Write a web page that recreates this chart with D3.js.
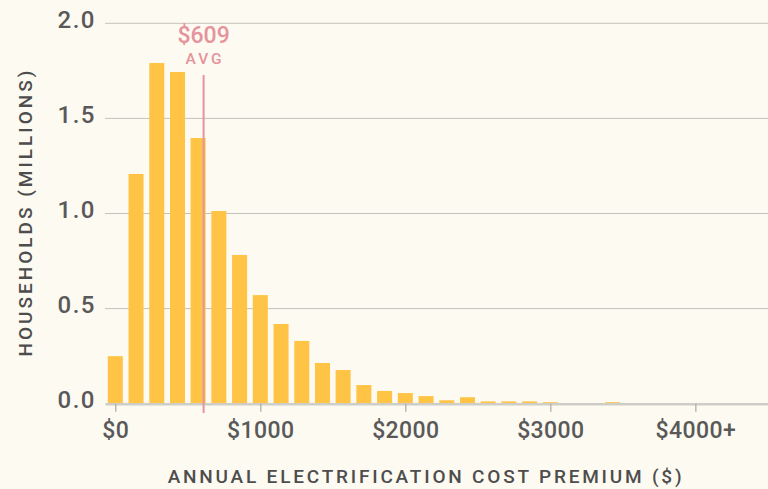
<!DOCTYPE html>
<html>
<head>
<meta charset="utf-8">
<script src="https://cdn.jsdelivr.net/npm/d3@7"></script>
<style>
  html, body { margin: 0; padding: 0; background: #fdfaf1; }
  svg { display: block; }
  svg text { font-family: Roboto, "Noto Sans", sans-serif; font-weight: 500; }
  .grid line { stroke: #c4c2bc; stroke-width: 1; }
  .tick text { fill: #595959; }
</style>
</head>
<body>
<script>
// bin centres in dollars (bins are $1000/7 wide)
var binCenters = [0, 143, 286, 429, 571, 714, 857, 1000, 1143, 1286,
                  1429, 1571, 1714, 1857, 2000, 2143, 2286, 2429, 2571, 2714,
                  2857, 3000, 3143, 3286, 3429, 3571, 3714, 3857, 4000, 4143];
// households, millions
var households = [0.25, 1.208, 1.791, 1.744, 1.397, 1.013, 0.782, 0.571, 0.419, 0.33,
                  0.214, 0.177, 0.098, 0.067, 0.056, 0.040, 0.018, 0.034, 0.012, 0.012,
                  0.012, 0.008, 0.002, 0.002, 0.008, 0.002, 0.002, 0.002, 0.002, 0.002];
var xTickValues = [0, 1000, 2000, 3000, 4000];
var xTickLabels = ["$0", "$1000", "$2000", "$3000", "$4000+"];
var yTickValues = [0, 0.5, 1.0, 1.5, 2.0];
var avgCost = 609;

function plot_it() {
  var width = 768, height = 489;
  var margin = {top: 23.3, right: 0, bottom: 85.3, left: 105};

  var svg = d3.select("body").append("svg")
    .attr("width", width)
    .attr("height", height);

  var data = binCenters.map(function(c, i) { return {x: c, v: households[i]}; });

  var x = d3.scaleLinear()
    .domain([-71, 4501])
    .range([margin.left, width - margin.right]);

  var y = d3.scaleLinear()
    .domain([0, 2])
    .range([height - margin.bottom, margin.top]);

  var binPx = (x(1000) - x(0)) / 7,
      barW = binPx * 0.725;

  // horizontal grid lines
  svg.append("g")
      .attr("class", "grid")
    .selectAll("line")
      .data(yTickValues.filter(function(d) { return d > 0; }))
    .enter().append("line")
      .attr("x1", margin.left)
      .attr("x2", width - margin.right)
      .attr("y1", function(d) { return y(d); })
      .attr("y2", function(d) { return y(d); });

  // bars
  svg.append("g")
    .selectAll("rect")
      .data(data)
    .enter().append("rect")
      .attr("x", function(d) { return x(d.x) - barW / 2; })
      .attr("width", barW)
      .attr("y", function(d) { return y(d.v); })
      .attr("height", function(d) { return y(0) - y(d.v); })
      .style("fill", "#ffc445");

  // x axis
  var xAxis = svg.append("g")
      .attr("transform", "translate(0," + y(0) + ")")
      .call(d3.axisBottom(x)
        .tickValues(xTickValues)
        .tickFormat(function(d, i) { return xTickLabels[i]; })
        .tickSize(8)
        .tickSizeOuter(0));
  xAxis.select(".domain").attr("stroke", "#cfcdc7").attr("stroke-width", 2.5);
  xAxis.selectAll(".tick line").attr("stroke", "#aaa8a3").attr("stroke-width", 1.2);
  xAxis.selectAll(".tick text")
      .attr("y", 34.5)
      .attr("dy", 0)
      .style("font-size", "23px")
      .style("letter-spacing", "0.4px");

  // y axis labels
  var yAxis = svg.append("g")
      .attr("transform", "translate(" + 96 + ",0)")
      .call(d3.axisLeft(y)
        .tickValues(yTickValues)
        .tickFormat(d3.format(".1f"))
        .tickSize(0)
        .tickPadding(0));
  yAxis.select(".domain").remove();
  yAxis.selectAll(".tick text")
      .attr("dy", 0)
      .attr("y", 3.8)
      .style("font-size", "24px")
      .style("letter-spacing", "1.5px");

  // average marker
  svg.append("line")
      .attr("x1", x(avgCost)).attr("x2", x(avgCost))
      .attr("y1", 75).attr("y2", 413)
      .attr("stroke", "#e5939c")
      .attr("stroke-width", 2);
  svg.append("text")
      .attr("x", x(avgCost))
      .attr("y", 43)
      .attr("text-anchor", "middle")
      .style("fill", "#e5939c")
      .style("font-size", "23px")
      .text("$" + avgCost);
  svg.append("text")
      .attr("x", x(avgCost) + 1.5)
      .attr("y", 63.5)
      .attr("text-anchor", "middle")
      .style("fill", "#e5939c")
      .style("font-size", "15.5px")
      .style("letter-spacing", "3px")
      .text("AVG");

  // axis titles
  svg.append("text")
      .attr("x", 426)
      .attr("y", 483)
      .attr("text-anchor", "middle")
      .style("fill", "#4d4d4d")
      .style("font-size", "19px")
      .style("letter-spacing", "2.8px")
      .text("ANNUAL ELECTRIFICATION COST PREMIUM ($)");

  svg.append("text")
      .attr("transform", "translate(32,212) rotate(-90)")
      .attr("text-anchor", "middle")
      .style("fill", "#4d4d4d")
      .style("font-size", "19px")
      .style("letter-spacing", "3px")
      .text("HOUSEHOLDS (MILLIONS)");
}

plot_it();
</script>
</body>
</html>
